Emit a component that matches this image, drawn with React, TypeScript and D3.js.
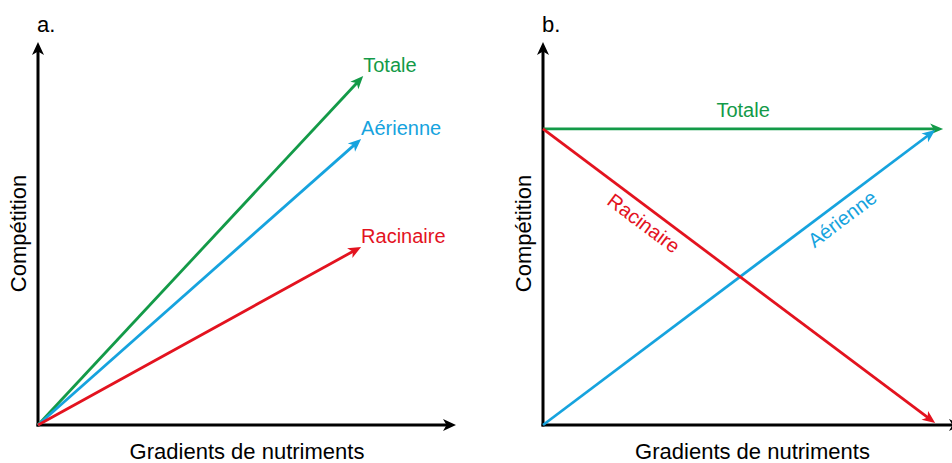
import React, { useEffect, useRef } from 'react';
import * as d3 from 'd3';

// series shared by both panels
const seriesNames = ['Totale', 'Aérienne', 'Racinaire'];
const seriesColors = ['#139a48', '#16a3de', '#e3131f'];

// panel a: all arrows start at origin
const aStartX = [0, 0, 0];
const aStartY = [0, 0, 0];
const aEndX = [77.8, 77.3, 77.3];
const aEndY = [91.1, 74.7, 46.5];

// panel b
const bStartX = [0, 0, 0];
const bStartY = [77.3, 0, 77.3];
const bEndX = [95.5, 93.6, 93.6];
const bEndY = [77.3, 77.0, 0.5];
const bLabelAt = [0.5, 0.74, 0.28];

const panelTags = ['a.', 'b.'];
const xTitle = 'Gradients de nutriments';
const yTitle = 'Compétition';

const FONT = '"Liberation Sans", Arial, sans-serif';

const App: React.FC = () => {
  const svgRef = useRef<SVGSVGElement>(null);

  useEffect(() => {
    if (!svgRef.current) return;
    const svg = d3.select(svgRef.current);
    svg.selectAll('*').remove();

    const width = 952;
    const height = 463;
    svg.attr('viewBox', `0 0 ${width} ${height}`);

    // arrowhead drawn at (x2,y2) pointing along the segment
    const arrow = (g: any, x1: number, y1: number, x2: number, y2: number, color: string, len = 13, half = 5.5) => {
      const ang = Math.atan2(y2 - y1, x2 - x1);
      const dist = Math.hypot(x2 - x1, y2 - y1);
      const cut = len - 4;
      g.append('line')
        .attr('x1', x1).attr('y1', y1)
        .attr('x2', x1 + Math.cos(ang) * (dist - cut))
        .attr('y2', y1 + Math.sin(ang) * (dist - cut))
        .attr('stroke', color)
        .attr('stroke-width', 2.8);
      g.append('path')
        .attr('d', `M0,0 L${-len},${-half} L${-len + 3.5},0 L${-len},${half} Z`)
        .attr('fill', color)
        .attr('transform', `translate(${x2},${y2}) rotate(${(ang * 180) / Math.PI})`);
    };

    const panels = [
      { x: d3.scaleLinear().domain([0, 100]).range([38, 456]), y: d3.scaleLinear().domain([0, 100]).range([425, 42]) },
      { x: d3.scaleLinear().domain([0, 100]).range([543, 962]), y: d3.scaleLinear().domain([0, 100]).range([425, 42]) },
    ];

    panels.forEach((p, pi) => {
      const g = svg.append('g');
      const { x, y } = p;

      // axes
      g.append('line')
        .attr('x1', x(0)).attr('y1', y(0))
        .attr('x2', x(100) - 9).attr('y2', y(0))
        .attr('stroke', '#000').attr('stroke-width', 3).attr('stroke-linecap', 'square');
      g.append('line')
        .attr('x1', x(0)).attr('y1', y(0))
        .attr('x2', x(0)).attr('y2', y(100) + 9)
        .attr('stroke', '#000').attr('stroke-width', 3).attr('stroke-linecap', 'square');
      g.append('path')
        .attr('d', 'M0,0 L-13,-6 L-9.5,0 L-13,6 Z')
        .attr('fill', '#000')
        .attr('transform', `translate(${x(100)},${y(0)})`);
      g.append('path')
        .attr('d', 'M0,0 L-13,-6 L-9.5,0 L-13,6 Z')
        .attr('fill', '#000')
        .attr('transform', `translate(${x(0)},${y(100)}) rotate(-90)`);

      // titles
      g.append('text')
        .attr('x', (x(0) + x(100)) / 2)
        .attr('y', 459)
        .attr('text-anchor', 'middle')
        .attr('font-family', FONT)
        .attr('font-size', 22)
        .attr('fill', '#000')
        .text(xTitle);
      g.append('text')
        .attr('transform', `translate(${x(0) - 12},${(y(0) + y(100)) / 2}) rotate(-90)`)
        .attr('text-anchor', 'middle')
        .attr('font-family', FONT)
        .attr('font-size', 22)
        .attr('fill', '#000')
        .text(yTitle);
      g.append('text')
        .attr('x', x(0) - 1)
        .attr('y', 32)
        .attr('font-family', FONT)
        .attr('font-size', 22)
        .attr('fill', '#000')
        .text(panelTags[pi]);

      const sx = pi === 0 ? aStartX : bStartX;
      const sy = pi === 0 ? aStartY : bStartY;
      const ex = pi === 0 ? aEndX : bEndX;
      const ey = pi === 0 ? aEndY : bEndY;

      seriesNames.forEach((name, i) => {
        const x1 = x(sx[i]);
        const y1 = y(sy[i]);
        const x2 = x(ex[i]);
        const y2 = y(ey[i]);
        arrow(g, x1, y1, x2, y2, seriesColors[i]);

        if (pi === 0) {
          g.append('text')
            .attr('x', x2)
            .attr('y', y2 - 4)
            .attr('font-family', FONT)
            .attr('font-size', 20)
            .attr('fill', seriesColors[i])
            .text(name);
        } else {
          const t = bLabelAt[i];
          const px = x1 + (x2 - x1) * t;
          const py = y1 + (y2 - y1) * t;
          const deg = (Math.atan2(y2 - y1, x2 - x1) * 180) / Math.PI;
          g.append('text')
            .attr('transform', `translate(${px},${py}) rotate(${deg})`)
            .attr('dy', deg === 0 ? -12 : 22)
            .attr('text-anchor', 'middle')
            .attr('font-family', FONT)
            .attr('font-size', 20)
            .attr('fill', seriesColors[i])
            .text(name);
        }
      });
    });
  }, []);

  return (
    <svg
      ref={svgRef}
      width={952}
      height={463}
      style={{ position: 'absolute', left: 0, top: 0, background: '#fff' }}
    />
  );
};

export default App;
